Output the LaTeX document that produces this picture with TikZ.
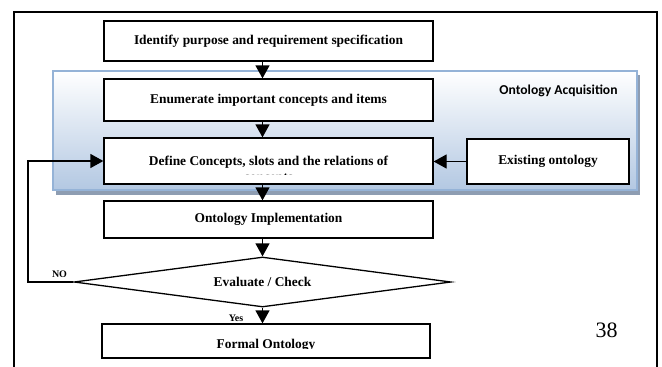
\documentclass[tikz,border=0pt]{standalone}
\usepackage{fontspec}
\setmainfont{Liberation Serif}
\newfontfamily\calibrifont{Carlito}
\usetikzlibrary{arrows.meta,shapes.geometric,calc}
\definecolor{panelborder}{HTML}{95B3D7}
\definecolor{panelbot}{HTML}{B3C8E2}
\definecolor{shadowc}{HTML}{8E9DB2}
\begin{document}
\begin{tikzpicture}[x=1pt,y=-1pt,
  boxtxt/.style={font=\bfseries\fontsize{13.4}{15}\selectfont},
  stepbox/.style={draw=black,line width=1.3pt,fill=white,rectangle,inner sep=0pt,boxtxt},
  arr/.style={line width=1.3pt,-{Triangle[length=13pt,width=14pt]}},
  lbl/.style={font=\bfseries\fontsize{10}{12}\selectfont,inner sep=0pt}
  ]
\useasboundingbox (0,0) rectangle (662,367);
\clip (0,0) rectangle (662,367);
% outer frame
\draw[line width=2pt] (14,12) rectangle (657,380);
% panel
\fill[shadowc] (56,75) rectangle (640,195);
\draw[panelborder,line width=1.5pt,top color=white,bottom color=panelbot] (53,71) rectangle (637,190);
\node[font=\calibrifont\bfseries\fontsize{13.6}{15}\selectfont,inner sep=0pt] (acq) at (558.5,91) {Ontology Acquisition};
% boxes
\node[stepbox,minimum width=329pt,minimum height=40pt] (b1) at (268.5,41) {Identify purpose and requirement specification};
\node[stepbox,minimum width=329pt,minimum height=42pt] (b2) at (268.5,100) {Enumerate important concepts and items};
\node[stepbox,minimum width=329pt,minimum height=46pt] (b3) at (268.5,161) {};
\begin{scope}
\clip (104,139) rectangle (433,174);
\node[boxtxt,anchor=base,inner sep=0pt] (t3a) at (268.5,165) {Define Concepts, slots and the relations of};
\node[boxtxt,anchor=base,inner sep=0pt] (t3b) at (268.5,181) {concepts};
\end{scope}
\node[stepbox,minimum width=162pt,minimum height=45pt] (ex) at (548,161.5) {Existing ontology};
\node[stepbox,minimum width=329pt,minimum height=37pt] (b4) at (268.5,219.5) {Ontology Implementation};
\node[draw=black,line width=1.3pt,diamond,aspect=7.5,minimum width=377pt,minimum height=50pt,inner sep=0pt,fill=white,boxtxt] (dia) at (262.5,282) {Evaluate / Check};
\node[stepbox,minimum width=328pt,minimum height=34pt] (b5) at (266,341) {};
\begin{scope}
\clip (102,325) rectangle (430,348.5);
\node[boxtxt,anchor=base,inner sep=0pt] (t5) at (266,348) {Formal Ontology};
\end{scope}
% connectors
\draw[arr] (b1.south -| dia.north) -- (b2.north -| dia.north);
\draw[arr] (b2.south -| dia.north) -- (b3.north -| dia.north);
\draw[arr] (b3.south -| dia.north) -- (b4.north -| dia.north);
\draw[arr] (b4.south -| dia.north) -- (dia.north);
\draw[arr] (dia.south) -- (b5.north -| dia.south);
\draw[arr] (ex.west) -- (b3.east |- ex.west);
\coordinate (fb) at (28,282);
\draw[arr] (dia.west) -- (fb) |- (b3.west);
% labels
\node[lbl] (no) at (59.5,274.5) {NO};
\node[lbl] (yes) at (236,318.5) {Yes};
\node[font=\fontsize{22}{26}\selectfont,inner sep=0pt] (pg) at (606.5,330) {38};
\end{tikzpicture}
\end{document}
